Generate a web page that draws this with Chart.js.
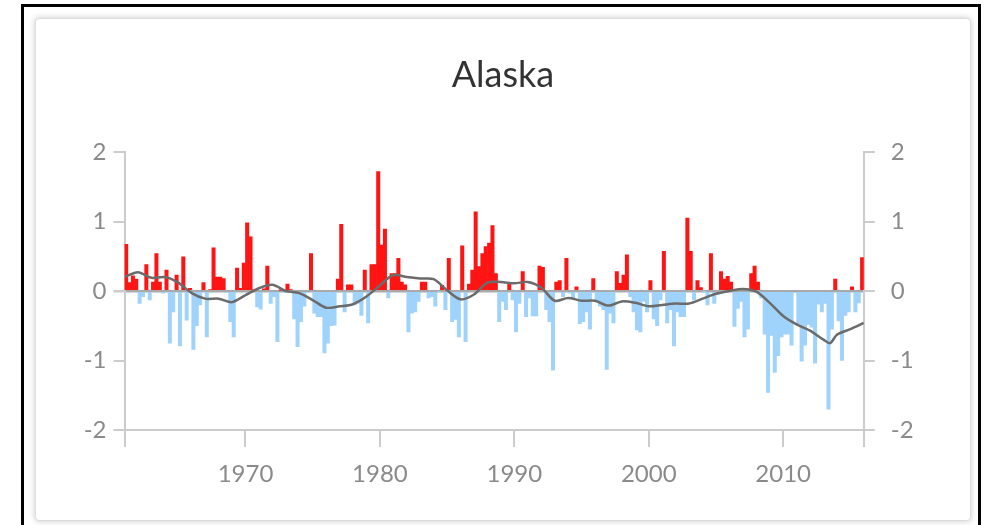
<!DOCTYPE html>
<html>
<head>
<meta charset="utf-8">
<title>Alaska</title>
<script src="https://cdn.jsdelivr.net/npm/chart.js@4.4.0/dist/chart.umd.min.js"></script>
<style>
  body { margin: 0; background: #fff; width: 987px; height: 525px; overflow: hidden; position: relative; font-family: Lato, sans-serif; }
  #frame { position: absolute; left: 21px; top: 4px; width: 954px; height: 600px; border: 3px solid #000; }
  #card { position: absolute; left: 35px; top: 18px; width: 934px; height: 501px; border: 1px solid #ddd; border-radius: 4px; box-shadow: 0 0 6px rgba(0,0,0,0.22); background: #fff; }
  #chartBox { position: absolute; left: 35px; top: 18px; width: 936px; height: 503px; }
</style>
</head>
<body>
<div id="frame"></div>
<div id="card"></div>
<div id="chartBox"><canvas id="alaskaChart"></canvas></div>
<script>
// Seasonal anomalies, 4 per year starting 1961
const startYear = 1961;
const endYear = 2016;
const seasonsPerYear = 4;
const seasonValues = [
    0.67, 0.12, 0.22, 0.17, -0.18, -0.08, 0.38, -0.13, 0.13, 0.54,
    0.13, -0.03, 0.30, -0.75, -0.30, 0.23, -0.79, 0.49, -0.42, 0.04,
    -0.84, -0.50, -0.20, 0.12, -0.66, 0.02, 0.62, 0.20, 0.20, 0.18,
    -0.02, -0.44, -0.66, 0.33, 0.04, 0.40, 0.98, 0.78, 0.01, -0.23,
    -0.26, 0.03, 0.36, -0.18, -0.08, -0.73, 0.01, -0.02, 0.10, 0.02,
    -0.40, -0.80, -0.44, -0.22, -0.02, 0.54, -0.32, -0.37, -0.37, -0.89,
    -0.75, -0.50, -0.49, 0.17, 0.96, -0.30, 0.09, 0.09, -0.20, -0.18,
    -0.35, 0.30, -0.46, 0.38, 0.38, 1.72, 0.66, 0.89, -0.10, 0.25,
    0.25, 0.47, 0.13, 0.09, -0.59, -0.32, -0.30, -0.15, 0.13, 0.13,
    -0.10, -0.08, -0.22, -0.01, 0.08, -0.27, 0.47, -0.44, -0.41, -0.66,
    0.65, -0.73, 0.10, 0.30, 1.14, 0.35, 0.54, 0.64, 0.69, 0.94,
    0.25, -0.44, -0.15, -0.27, 0.10, -0.13, -0.59, -0.18, 0.28, -0.37,
    -0.10, -0.36, -0.36, 0.36, 0.34, -0.27, -0.44, -1.14, 0.13, 0.15,
    -0.08, 0.47, -0.03, -0.10, 0.06, -0.47, -0.44, -0.30, -0.55, 0.18,
    -0.13, -0.22, -0.27, -1.13, -0.32, -0.46, 0.28, 0.11, 0.23, 0.52,
    -0.08, -0.30, -0.56, -0.59, -0.15, -0.30, 0.15, -0.40, -0.50, -0.13,
    0.57, -0.46, -0.27, -0.79, -0.30, -0.37, -0.37, 1.05, 0.57, -0.13,
    0.15, 0.05, -0.01, -0.20, 0.54, -0.18, -0.05, 0.28, 0.17, 0.21,
    0.13, -0.51, -0.25, -0.15, -0.66, -0.55, 0.25, 0.36, 0.13, -0.10,
    -0.62, -1.46, -0.64, -1.17, -0.93, -0.66, -0.62, -0.62, -0.78, -0.02,
    -0.47, -1.01, -0.78, -0.48, -0.52, -1.04, -0.19, -0.30, -0.18, -1.70,
    -0.55, 0.17, -0.43, -1.00, -0.35, -0.30, 0.06, -0.30, -0.17, 0.48
];

// Running mean (grey line)
const smoothYears = [
    1961, 1962, 1963, 1964, 1965, 1966, 1967, 1968, 1969, 1970,
    1971, 1972, 1973, 1974, 1975, 1976, 1977, 1978, 1979, 1980,
    1981, 1982, 1983, 1984, 1985, 1986, 1987, 1988, 1989, 1990,
    1991, 1992, 1993, 1994, 1995, 1996, 1997, 1998, 1999, 2000,
    2001, 2002, 2003, 2004, 2005, 2006, 2007, 2008, 2009, 2010,
    2011, 2012, 2013, 2013.5, 2014, 2015, 2016
];
const smoothValues = [
    0.20, 0.27, 0.19, 0.20, 0.12, -0.03, -0.11, -0.11, -0.16, -0.06,
    0.04, 0.09, 0.00, -0.03, -0.13, -0.24, -0.22, -0.19, -0.08, 0.08,
    0.23, 0.20, 0.18, 0.17, 0.01, -0.12, -0.05, 0.12, 0.13, 0.11,
    0.13, 0.05, -0.14, -0.10, -0.14, -0.14, -0.21, -0.15, -0.17, -0.22,
    -0.20, -0.18, -0.18, -0.11, -0.04, 0.00, 0.03, -0.01, -0.17, -0.36,
    -0.48, -0.57, -0.70, -0.75, -0.63, -0.55, -0.46
];

const xTickYears = [1970, 1980, 1990, 2000, 2010];
const yTicks = [-2, -1, 0, 1, 2];

const warmColor = '#ff1414';
const coldColor = '#9fd3fb';
const axisColor = '#cccccc';
const labelColor = '#8a8a8a';
const labelFont = { family: 'Lato', size: 24 };

const barPoints = seasonValues.map((v, i) => ({ x: startYear + (i + 0.5) / seasonsPerYear, y: v }));
const linePoints = smoothYears.map((yr, i) => ({ x: yr, y: smoothValues[i] }));

function fixWidth(w) {
    return function(scale) { scale.width = w; };
}

const ctx = document.getElementById('alaskaChart').getContext('2d');
new Chart(ctx, {
    type: 'bar',
    data: {
        datasets: [
            {
                type: 'line',
                data: linePoints,
                borderColor: '#6b6b6b',
                borderWidth: 2.5,
                pointRadius: 0,
                tension: 0.3,
                order: 0
            },
            {
                type: 'bar',
                data: barPoints,
                backgroundColor: c => (c.raw && c.raw.y >= 0) ? warmColor : coldColor,
                borderWidth: 0,
                barPercentage: 1,
                categoryPercentage: 1,
                order: 1
            }
        ]
    },
    options: {
        responsive: true,
        maintainAspectRatio: false,
        animation: false,
        layout: { padding: 0 },
        plugins: {
            legend: { display: false },
            tooltip: { enabled: false },
            title: {
                display: true,
                text: 'Alaska',
                color: '#333333',
                font: { family: 'Lato', size: 36, weight: 'normal' },
                padding: { top: 35.4, bottom: 55.4 }
            }
        },
        scales: {
            x: {
                type: 'linear',
                min: startYear,
                max: endYear,
                offset: false,
                afterBuildTicks: scale => {
                    scale.ticks = [startYear].concat(xTickYears, [endYear]).map(v => ({ value: v }));
                },
                afterFit: scale => { scale.height = 91; },
                grid: { offset: false, drawOnChartArea: false, tickLength: 17, tickColor: axisColor, lineWidth: 2 },
                border: { color: axisColor, width: 2 },
                ticks: {
                    color: labelColor,
                    font: labelFont,
                    padding: 13,
                    maxRotation: 0,
                    autoSkip: false,
                    callback: v => xTickYears.includes(v) ? String(v) : ''
                }
            },
            y: {
                position: 'left',
                min: -2,
                max: 2,
                afterBuildTicks: scale => { scale.ticks = yTicks.map(v => ({ value: v })); },
                afterFit: fixWidth(89.5),
                grid: {
                    drawOnChartArea: true,
                    tickLength: 11,
                    color: c => c.tick && c.tick.value === 0 ? '#a9a9a9' : 'rgba(0,0,0,0)',
                    lineWidth: c => c.tick && c.tick.value === 0 ? 2.5 : 2,
                    tickColor: axisColor
                },
                border: { color: axisColor, width: 2 },
                ticks: { color: labelColor, font: labelFont, padding: 7 }
            },
            y2: {
                position: 'right',
                min: -2,
                max: 2,
                afterBuildTicks: scale => { scale.ticks = yTicks.map(v => ({ value: v })); },
                afterFit: fixWidth(107.2),
                grid: { drawOnChartArea: false, tickLength: 11, tickColor: axisColor, lineWidth: 2 },
                border: { color: axisColor, width: 2 },
                ticks: { color: labelColor, font: labelFont, padding: 16 }
            }
        }
    }
});
</script>
</body>
</html>
